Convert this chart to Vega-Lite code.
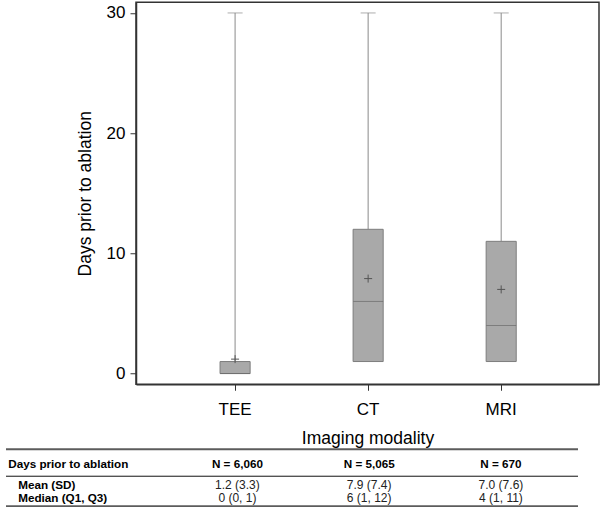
{
  "$schema": "https://vega.github.io/schema/vega-lite/v6.json",
  "padding": {"left": 5, "top": 1.25, "right": 1, "bottom": 0},
  "spacing": 0,
  "config": {"font": "Liberation Sans", "view": {"stroke": null}, "axis": {"labelColor": "#000", "titleColor": "#000"}},
  "datasets": {
    "stats": [
      {"modality": "TEE", "q1": 0, "median": 0, "q3": 1, "mean": 1.2, "max": 30},
      {"modality": "CT", "q1": 1, "median": 6, "q3": 12, "mean": 7.9, "max": 30},
      {"modality": "MRI", "q1": 1, "median": 4, "q3": 11, "mean": 7.0, "max": 30}
    ],
    "table": [
      {"row": "Days prior to ablation", "modality": "TEE", "text": "N = 6,060"},
      {"row": "Days prior to ablation", "modality": "CT", "text": "N = 5,065"},
      {"row": "Days prior to ablation", "modality": "MRI", "text": "N = 670"},
      {"row": "Mean (SD)", "modality": "TEE", "text": "1.2 (3.3)"},
      {"row": "Mean (SD)", "modality": "CT", "text": "7.9 (7.4)"},
      {"row": "Mean (SD)", "modality": "MRI", "text": "7.0 (7.6)"},
      {"row": "Median (Q1, Q3)", "modality": "TEE", "text": "0 (0, 1)"},
      {"row": "Median (Q1, Q3)", "modality": "CT", "text": "6 (1, 12)"},
      {"row": "Median (Q1, Q3)", "modality": "MRI", "text": "4 (1, 11)"}
    ]
  },
  "vconcat": [
    {
      "width": 463,
      "height": 382,
      "view": {"stroke": "#333", "strokeWidth": 1.5},
      "data": {"name": "stats"},
      "encoding": {
        "x": {
          "field": "modality", "type": "nominal", "sort": ["TEE", "CT", "MRI"],
          "scale": {"type": "band", "paddingInner": 0, "paddingOuter": 0.24, "align": 0.51},
          "axis": {"title": "Imaging modality", "labelAngle": 0, "labelFontSize": 17, "titleFontSize": 17.5, "titleFontWeight": "normal", "tickSize": 6, "labelPadding": 11, "titlePadding": 12, "domainColor": "#333", "tickColor": "#333", "domainWidth": 1.5}
        }
      },
      "layer": [
        {
          "mark": {"type": "rule", "color": "#8a8a8a", "strokeWidth": 1},
          "encoding": {
            "y": {
              "field": "q3", "type": "quantitative",
              "scale": {"domain": [-0.89, 30.89], "nice": false, "zero": false},
              "axis": {"title": "Days prior to ablation", "values": [0, 10, 20, 30], "grid": false, "labelFontSize": 17, "titleFontSize": 17.5, "titleFontWeight": "normal", "tickSize": 6, "labelPadding": 5, "titleX": -42, "domainColor": "#333", "tickColor": "#333", "domainWidth": 1.5}
            },
            "y2": {"field": "max"}
          }
        },
        {
          "mark": {"type": "tick", "color": "#8a8a8a", "thickness": 1, "size": 15},
          "encoding": {"y": {"field": "max", "type": "quantitative"}}
        },
        {
          "mark": {"type": "bar", "fill": "#a9a9a9", "stroke": "#7d7d7d", "strokeWidth": 1, "width": {"band": 0.226}},
          "encoding": {"y": {"field": "q1", "type": "quantitative"}, "y2": {"field": "q3"}}
        },
        {
          "mark": {"type": "tick", "color": "#6a6a6a", "thickness": 1, "size": 30},
          "encoding": {"y": {"field": "median", "type": "quantitative"}}
        },
        {
          "mark": {"type": "point", "shape": "M-1,0H1M0,-1V1", "size": 64, "filled": false, "stroke": "#555", "strokeWidth": 1, "opacity": 1},
          "encoding": {"y": {"field": "mean", "type": "quantitative"}}
        }
      ]
    },
    {
      "width": 463,
      "height": 57,
      "data": {"name": "table"},
      "encoding": {
        "x": {
          "field": "modality", "type": "nominal", "sort": ["TEE", "CT", "MRI"],
          "scale": {"type": "band", "paddingInner": 0, "paddingOuter": 0.257, "align": 0.525},
          "axis": null
        }
      },
      "layer": [
        {
          "transform": [{"filter": "datum.row === 'Days prior to ablation' && datum.modality === 'TEE'"}],
          "mark": {"type": "rule", "color": "#5c5c5c", "strokeWidth": 2},
          "encoding": {
            "x": {"value": -130},
            "x2": {"value": 442},
            "y": {
              "field": "row", "type": "nominal", "bandPosition": 0,
              "scale": {"type": "band", "domain": ["Days prior to ablation", "Mean (SD)", "Median (Q1, Q3)"], "paddingInner": 0, "paddingOuter": 0},
              "axis": {
                "title": null, "domain": false, "ticks": false, "tickSize": 0,
                "labelAlign": "left", "labelBaseline": "middle", "labelFontWeight": "bold", "labelFontSize": 11.7, "labelColor": "#000",
                "labelPadding": {"condition": {"test": "datum.value === 'Days prior to ablation'", "value": 128.3}, "value": 118.3},
                "labelOffset": {"condition": [{"test": "datum.value === 'Days prior to ablation'", "value": 4.8}, {"test": "datum.value === 'Mean (SD)'", "value": 7.2}], "value": 0.8},
                "labelLimit": 0
              }
            }
          }
        },
        {
          "transform": [{"filter": "datum.row === 'Mean (SD)' && datum.modality === 'TEE'"}],
          "mark": {"type": "rule", "color": "#111", "strokeWidth": 1},
          "encoding": {"x": {"value": -130}, "x2": {"value": 442}, "y": {"field": "row", "type": "nominal", "bandPosition": 0.42}}
        },
        {
          "transform": [{"filter": "datum.row === 'Median (Q1, Q3)' && datum.modality === 'TEE'"}],
          "mark": {"type": "rule", "color": "#5c5c5c", "strokeWidth": 2},
          "encoding": {"x": {"value": -130}, "x2": {"value": 442}, "y": {"field": "row", "type": "nominal", "bandPosition": 1}}
        },
        {
          "transform": [{"filter": "datum.row === 'Days prior to ablation'"}],
          "mark": {"type": "text", "fontWeight": "bold", "fontSize": 11.7, "color": "#000"},
          "encoding": {"y": {"field": "row", "type": "nominal", "bandPosition": 0.75}, "text": {"field": "text"}}
        },
        {
          "transform": [{"filter": "datum.row === 'Mean (SD)'"}],
          "mark": {"type": "text", "fontSize": 12, "color": "#222"},
          "encoding": {"y": {"field": "row", "type": "nominal", "bandPosition": 0.88}, "text": {"field": "text"}}
        },
        {
          "transform": [{"filter": "datum.row === 'Median (Q1, Q3)'"}],
          "mark": {"type": "text", "fontSize": 12, "color": "#222"},
          "encoding": {"y": {"field": "row", "type": "nominal", "bandPosition": 0.54}, "text": {"field": "text"}}
        }
      ]
    }
  ]
}
